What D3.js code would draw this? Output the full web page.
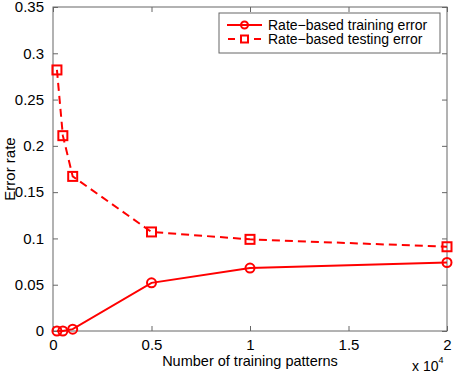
<!DOCTYPE html>
<html>
<head>
<meta charset="utf-8">
<script src="https://cdn.jsdelivr.net/npm/d3@7"></script>
<style>
  body { margin: 0; background: #fff; }
  svg { font-family: "Liberation Sans", Arial, sans-serif; }
</style>
</head>
<body>
<svg id="chart" width="454" height="375"></svg>
<script>
// training set sizes (units of 10^4)
const patterns = [0.02, 0.05, 0.1, 0.5, 1, 2];
const trainError = [0, 0, 0.002, 0.052, 0.068, 0.074];
const testError = [0.282, 0.211, 0.167, 0.107, 0.099, 0.091];
const xTicks = [0, 0.5, 1, 1.5, 2];
const yTicks = [0, 0.05, 0.1, 0.15, 0.2, 0.25, 0.3, 0.35];
const seriesNames = ["Rate\u2212based training error", "Rate\u2212based testing error"];

const margin = { top: 7, right: 7, bottom: 44, left: 53 };
const width = 454, height = 375;
const red = "#ff0000";
const axisColor = "#666";

const svg = d3.select("#chart");
const x = d3.scaleLinear().domain([0, 2]).range([margin.left, width - margin.right]);
const y = d3.scaleLinear().domain([0, 0.35]).range([height - margin.bottom, margin.top]);

const fmt = (d) => d3.format("")(+d.toFixed(2));

// axes with inward ticks, box on all sides
svg.append("g")
  .attr("transform", `translate(0,${y(0)})`)
  .call(d3.axisBottom(x).tickValues(xTicks).tickSize(-5).tickPadding(8).tickFormat(fmt))
  .call((g) => g.select(".domain").remove());
svg.append("g")
  .attr("transform", `translate(0,${y(0.35)})`)
  .call(d3.axisTop(x).tickValues(xTicks).tickSize(-5).tickFormat(""))
  .call((g) => g.select(".domain").remove());
svg.append("g")
  .attr("transform", `translate(${x(0)},0)`)
  .call(d3.axisLeft(y).tickValues(yTicks).tickSize(-5).tickPadding(9).tickFormat(fmt))
  .call((g) => g.select(".domain").remove());
svg.append("g")
  .attr("transform", `translate(${x(2)},0)`)
  .call(d3.axisRight(y).tickValues(yTicks).tickSize(-5).tickFormat(""))
  .call((g) => g.select(".domain").remove());

svg.selectAll(".tick line").attr("stroke", axisColor);
svg.selectAll(".tick text").attr("font-size", 15).attr("fill", "#000")
  .attr("font-family", "Liberation Sans, Arial, sans-serif");

svg.append("rect")
  .attr("x", x(0)).attr("y", y(0.35))
  .attr("width", x(2) - x(0)).attr("height", y(0) - y(0.35))
  .attr("fill", "none").attr("stroke", axisColor).attr("stroke-width", 1);

// axis labels
svg.append("text")
  .attr("x", (x(0) + x(2)) / 2).attr("y", 366)
  .attr("text-anchor", "middle").attr("font-size", 14.5)
  .text("Number of training patterns");
svg.append("text")
  .attr("transform", `translate(15,${(y(0) + y(0.35)) / 2}) rotate(-90)`)
  .attr("text-anchor", "middle").attr("font-size", 15)
  .text("Error rate");
const mult = svg.append("text").attr("x", 412).attr("y", 371).attr("font-size", 14);
mult.append("tspan").text("x 10");
mult.append("tspan").attr("font-size", 9).attr("dy", -8).text("4");

// series
const line = d3.line().x((d) => x(d[0])).y((d) => y(d[1]));
const trainPts = patterns.map((p, i) => [p, trainError[i]]);
const testPts = patterns.map((p, i) => [p, testError[i]]);

svg.append("path").datum(trainPts)
  .attr("d", line).attr("fill", "none").attr("stroke", red).attr("stroke-width", 2);
svg.append("path").datum(testPts)
  .attr("d", line).attr("fill", "none").attr("stroke", red).attr("stroke-width", 2)
  .attr("stroke-dasharray", "8,5");

svg.append("g").selectAll("circle").data(trainPts).join("circle")
  .attr("cx", (d) => x(d[0])).attr("cy", (d) => y(d[1])).attr("r", 4.5)
  .attr("fill", "none").attr("stroke", red).attr("stroke-width", 2);
svg.append("g").selectAll("rect").data(testPts).join("rect")
  .attr("x", (d) => x(d[0]) - 4.5).attr("y", (d) => y(d[1]) - 4.5)
  .attr("width", 9).attr("height", 9)
  .attr("fill", "none").attr("stroke", red).attr("stroke-width", 2);

// legend
const lg = svg.append("g");
lg.append("rect").attr("x", 219).attr("y", 13).attr("width", 221).attr("height", 40)
  .attr("fill", "#fff").attr("stroke", axisColor);
const rows = [25, 39];
seriesNames.forEach((name, i) => {
  const ly = rows[i];
  lg.append("line").attr("x1", 227).attr("x2", 262).attr("y1", ly).attr("y2", ly)
    .attr("stroke", red).attr("stroke-width", 2)
    .attr("stroke-dasharray", i === 1 ? "7,6" : null)
    .attr("stroke-dashoffset", i === 1 ? -1 : 0);
  if (i === 0) {
    lg.append("circle").attr("cx", 244.5).attr("cy", ly).attr("r", 3.5)
      .attr("fill", "none").attr("stroke", red).attr("stroke-width", 2);
  } else {
    lg.append("rect").attr("x", 241).attr("y", ly - 3.5).attr("width", 7).attr("height", 7)
      .attr("fill", "#fff").attr("stroke", red).attr("stroke-width", 2);
  }
  lg.append("text").attr("x", 268).attr("y", ly + 5).attr("font-size", 14).text(name);
});
</script>
</body>
</html>
